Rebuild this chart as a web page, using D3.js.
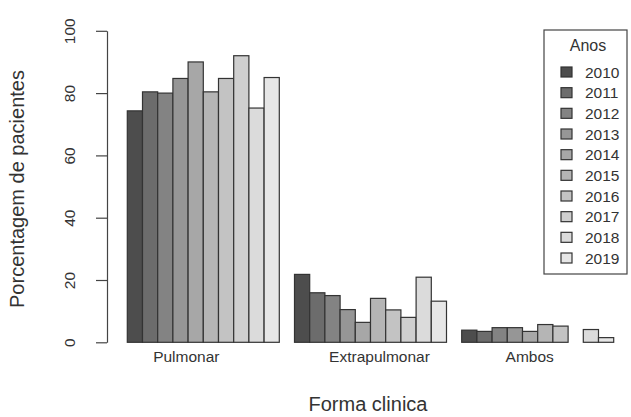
<!DOCTYPE html>
<html>
<head>
<meta charset="utf-8">
<script src="https://cdn.jsdelivr.net/npm/d3@7"></script>
<style>
  body { margin: 0; background: #fff; }
  text { font-family: "Liberation Sans", Arial, sans-serif; fill: #333; }
</style>
</head>
<body>
<svg id="chart" width="631" height="417"></svg>
<script>
const years = ['2010', '2011', '2012', '2013', '2014', '2015', '2016', '2017', '2018', '2019'];
const forms = ['Pulmonar', 'Extrapulmonar', 'Ambos'];
const pulmonar = [74.3, 80.4, 80.0, 84.7, 90.0, 80.4, 84.7, 92.0, 75.2, 85.0];
const extrapulmonar = [21.8, 15.9, 15.0, 10.5, 6.4, 14.1, 10.4, 8.0, 20.9, 13.2];
const ambos = [3.9, 3.5, 4.7, 4.7, 3.5, 5.7, 5.2, 0, 4.1, 1.5];
const yTicks = [0, 20, 40, 60, 80, 100];
const greys = [77, 108, 131, 150, 167, 181, 195, 207, 219, 230];

const series = [pulmonar, extrapulmonar, ambos];
const svg = d3.select('#chart');

// bar units like R barplot(beside=TRUE): one blank unit between groups
const x = d3.scaleLinear().domain([1, 33]).range([127.3, 613.7]);
const y = d3.scaleLinear().domain([0, 100]).range([342.3, 30.8]);
const color = d3.scaleOrdinal().domain(years).range(greys.map(g => d3.rgb(g, g, g)));

const bars = [];
series.forEach((vals, g) => {
    vals.forEach((v, j) => bars.push({ form: forms[g], year: years[j], value: v, unit: 1 + g * 11 + j }));
});

svg.append('g').selectAll('rect')
    .data(bars.filter(d => d.value > 0))
    .join('rect')
    .attr('x', d => x(d.unit))
    .attr('y', d => y(d.value))
    .attr('width', x(2) - x(1))
    .attr('height', d => y(0) - y(d.value))
    .attr('fill', d => color(d.year))
    .attr('stroke', '#333')
    .attr('stroke-width', 1.2);

// y axis
const yAxis = svg.append('g')
    .attr('transform', 'translate(107,0)')
    .call(d3.axisLeft(y).tickValues(yTicks).tickSize(11).tickSizeOuter(0));
yAxis.select('.domain').attr('stroke', '#444').attr('stroke-width', 1.2);
yAxis.selectAll('.tick line').attr('stroke', '#444').attr('stroke-width', 1.2);
yAxis.selectAll('.tick text')
    .attr('x', 0).attr('y', 0).attr('dy', null)
    .attr('text-anchor', 'middle')
    .attr('transform', 'translate(-32,0) rotate(-90)')
    .style('font-size', '15.5px')
    .style('font-family', '"Liberation Sans", Arial, sans-serif')
    .attr('fill', '#333');

// group labels under each cluster
const labelShift = [-17, 9, -8];
svg.append('g').selectAll('text')
    .data(forms)
    .join('text')
    .attr('x', (d, i) => x(1 + i * 11 + 5) + labelShift[i])
    .attr('y', 362)
    .attr('text-anchor', 'middle')
    .style('font-size', '15.5px')
    .text(d => d);

// axis titles
svg.append('text')
    .attr('x', 368).attr('y', 411)
    .attr('text-anchor', 'middle')
    .style('font-size', '20px')
    .text('Forma clinica');

svg.append('text')
    .attr('transform', 'translate(24,189) rotate(-90)')
    .attr('text-anchor', 'middle')
    .style('font-size', '20px')
    .text('Porcentagem de pacientes');

// legend
const legend = svg.append('g');
legend.append('rect')
    .attr('x', 544).attr('y', 30)
    .attr('width', 83).attr('height', 244)
    .attr('fill', '#fff')
    .attr('stroke', '#444')
    .attr('stroke-width', 1.2);
legend.append('text')
    .attr('x', 588).attr('y', 51)
    .attr('text-anchor', 'middle')
    .style('font-size', '16px')
    .text('Anos');

const rowY = d3.scaleLinear().domain([0, years.length - 1]).range([72, 258]);
const rows = legend.selectAll('g.row')
    .data(years)
    .join('g')
    .attr('class', 'row')
    .attr('transform', (d, i) => `translate(0,${rowY(i)})`);
rows.append('rect')
    .attr('x', 561).attr('y', -5)
    .attr('width', 11).attr('height', 10)
    .attr('fill', d => color(d))
    .attr('stroke', '#333')
    .attr('stroke-width', 1.2);
rows.append('text')
    .attr('x', 585).attr('y', 5.5)
    .style('font-size', '15.5px')
    .text(d => d);
</script>
</body>
</html>
